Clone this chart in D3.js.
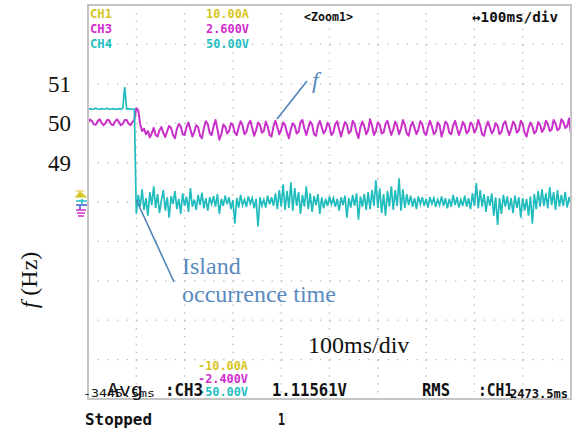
<!DOCTYPE html>
<html>
<head>
<meta charset="utf-8">
<script src="https://cdn.jsdelivr.net/npm/d3@7"></script>
<style>
  body { margin: 0; background: #fff; }
  .scope { font-family: "DejaVu Sans Mono", "Liberation Mono", monospace; font-weight: bold; }
  .serif { font-family: "Liberation Serif", "Times New Roman", serif; }
</style>
</head>
<body>
<div id="chart"></div>
<script>
// sample spacing of both traces (ms); 10 divisions x 100 ms on screen
var sampleStepMs = 4;
var timeDivs = [0, 100, 200, 300, 400, 500, 600, 700, 800, 900, 1000];

// CH3 - frequency (Hz)
var ch3Hz = [
  50.02, 50.09, 50.06, 49.97, 49.96, 50.05, 50.10, 50.01, 49.95, 50.00,
  50.09, 50.07, 49.97, 49.95, 50.04, 50.10, 50.03, 49.95, 49.98, 50.08,
  50.08, 49.99, 49.95, 50.03, 50.09,
  50.38, 50.33, 49.98, 49.80, 49.86, 49.72, 49.80, 49.64, 49.74, 49.88,
  49.70, 49.66, 49.82, 49.90, 49.75, 49.65, 49.80, 49.93, 49.88, 49.70,
  49.62, 49.85, 49.98, 49.92, 49.72, 49.70, 49.90, 50.02, 49.84, 49.66,
  49.78, 49.95, 49.90, 49.68, 49.62, 49.88, 50.05, 49.98, 49.75, 49.70,
  49.92, 50.08, 49.85, 49.58, 49.72, 49.96, 49.92, 49.74, 49.80, 50.00,
  49.95, 49.76, 49.70, 49.90, 50.05, 49.94, 49.72, 49.78, 49.98, 50.06,
  49.88, 49.68, 49.82, 50.02, 49.96, 49.76, 49.80, 50.04, 49.92, 49.70,
  49.66, 49.92, 50.06, 49.90, 49.72, 49.84, 50.02, 49.95, 49.76, 49.62,
  49.85, 50.00, 49.94, 49.74, 49.78, 50.03, 50.08, 49.86, 49.70, 49.88,
  50.04, 49.97, 49.72, 49.68, 49.94, 50.06, 49.90, 49.74, 49.82, 50.01,
  49.93, 49.70, 49.76, 49.98, 50.05, 49.84, 49.66, 49.86, 50.03, 49.96,
  49.74, 49.80, 50.06, 49.98, 49.76, 49.62, 49.90, 50.04, 49.92, 49.72,
  49.82, 50.10, 49.94, 49.70, 49.80, 50.02, 49.96, 49.74, 49.76, 49.98,
  50.06, 49.88, 49.70, 49.84, 50.04, 49.93, 49.72, 49.86, 50.08, 49.96,
  49.74, 49.68, 49.92, 50.03, 49.88, 49.72, 49.84, 50.05, 49.98, 49.76,
  49.70, 49.90, 50.06, 49.92, 49.72, 49.78, 50.02, 49.95, 49.66, 49.82,
  50.04, 49.98, 49.76, 49.72, 49.94, 50.06, 49.88, 49.70, 49.84, 50.03,
  49.94, 49.74, 49.80, 50.02, 49.96, 49.76, 49.86, 50.08, 49.94, 49.72,
  49.68, 49.90, 50.04, 49.90, 49.74, 49.82, 50.00, 49.94, 49.72, 49.78,
  49.98, 50.05, 49.86, 49.70, 49.84, 50.04, 49.96, 49.76, 49.82, 50.06,
  49.98, 49.76, 49.66, 49.88, 50.02, 49.92, 49.74, 49.80, 50.03, 49.96,
  49.78, 49.86, 50.06, 49.98, 49.80, 49.84, 50.08, 50.00, 49.82, 49.86,
  50.10, 50.04, 49.88, 49.92, 50.12, 49.72
];

// CH4 - voltage, in screen divisions
var ch4Div = [
  2.36, 2.37, 2.35, 2.36, 2.38, 2.36, 2.35, 2.37, 2.36, 2.36,
  2.38, 2.35, 2.36, 2.37, 2.36, 2.35, 2.37, 2.36, 2.38, 2.92,
  2.36, 2.37, 2.35, 2.36, 2.36,
  -0.30, 0.18, -0.12, 0.32, -0.20, 0.10, -0.35, 0.25, -0.08, 0.40,
  -0.15, 0.20, -0.28, 0.05, 0.30, -0.22, 0.12, -0.40, 0.15, -0.05,
  0.28, -0.18, 0.08, -0.30, 0.22, -0.10, 0.14, -0.25, 0.35, -0.12,
  0.06, -0.20, 0.18, -0.08, 0.24, -0.16, 0.10, -0.22, 0.12, -0.05,
  0.15, -0.12, 0.20, -0.30, 0.08, -0.10, 0.16, -0.06, 0.12, -0.18,
  0.05, -0.55, 0.10, -0.14, 0.18, -0.08, 0.06, -0.12, 0.14, -0.04,
  0.10, -0.16, 0.08, -0.62, 0.12, -0.10, 0.06, -0.14, 0.16, -0.06,
  0.12, -0.10, 0.22, -0.18, 0.30, -0.12, 0.45, -0.20, 0.28, -0.15,
  0.50, -0.22, 0.35, -0.10, 0.25, -0.30, 0.18, -0.12, 0.40, -0.18,
  0.22, -0.25, 0.15, -0.08, 0.20, -0.30, 0.12, -0.16, 0.08, -0.10,
  0.14, -0.06, 0.10, -0.12, 0.08, -0.22, 0.12, -0.08, 0.16, -0.40,
  0.10, -0.14, 0.18, -0.10, 0.22, -0.45, 0.14, -0.12, 0.20, -0.20,
  0.25, -0.18, 0.30, -0.10, 0.55, -0.15, 0.35, -0.28, 0.20, -0.35,
  0.28, -0.12, 0.40, -0.20, 0.30, -0.10, 0.60, -0.22, 0.32, -0.15,
  0.20, -0.08, 0.16, -0.12, 0.10, -0.18, 0.14, -0.06, 0.12, -0.10,
  0.08, -0.14, 0.12, -0.05, 0.10, -0.12, 0.06, -0.08, 0.14, -0.10,
  0.10, -0.16, 0.08, -0.12, 0.18, -0.08, 0.12, -0.14, 0.06, -0.10,
  0.16, -0.12, 0.10, -0.18, 0.22, -0.10, 0.48, -0.16, 0.30, -0.12,
  0.20, -0.25, 0.15, -0.10, 0.22, -0.35, 0.12, -0.58, 0.10, -0.30,
  0.18, -0.12, 0.14, -0.20, 0.10, -0.28, 0.16, -0.15, 0.12, -0.40,
  0.10, -0.22, 0.08, -0.35, 0.14, -0.55, 0.20, -0.18, 0.28, -0.12,
  0.32, -0.10, 0.22, -0.16, 0.38, -0.08, 0.25, -0.20, 0.30, -0.12,
  0.18, -0.10, 0.26, -0.14, 0.12, -0.06
];

var freqTicks = [51, 50, 49];
var channelNames = ["CH1", "CH3", "CH4"];
var channelTop = ["10.00A", "2.600V", "50.00V"];
var channelBottom = ["-10.00A", "-2.400V", "-50.00V"];
var channelColors = ["#d6c624", "#d02ccf", "#1fbfc3"];

var width = 584, height = 437;
var frame = { left: 88, right: 571, top: 5, bottom: 399 };

var svg = d3.select("#chart").append("svg")
    .attr("width", width)
    .attr("height", height);

// scales
var x = d3.scaleLinear().domain([0, 1000]).range([frame.left, frame.right]);
var yHz = d3.scaleLinear().domain([43, 53]).range([frame.bottom, frame.top]);
var yDiv = d3.scaleLinear().domain([-5, 5]).range([frame.bottom, frame.top]);
var divTicks = d3.range(-4, 5);

// dotted graticule
var grid = svg.append("g").attr("stroke", "#b8b8b8").attr("stroke-width", 1.3);
grid.selectAll(".vgrid")
    .data(timeDivs.slice(1, -1))
    .enter().append("line")
    .attr("x1", function(d) { return x(d); })
    .attr("x2", function(d) { return x(d); })
    .attr("y1", frame.top)
    .attr("y2", frame.bottom)
    .attr("stroke-dasharray", "1.3," + ((yDiv(0) - yDiv(1)) / 5 - 1.3));
grid.selectAll(".hgrid")
    .data(divTicks)
    .enter().append("line")
    .attr("x1", frame.left)
    .attr("x2", frame.right)
    .attr("y1", function(d) { return yDiv(d); })
    .attr("y2", function(d) { return yDiv(d); })
    .attr("stroke-dasharray", "1.3," + ((x(100) - x(0)) / 5 - 1.3));

// traces
var lineHz = d3.line()
    .x(function(d, i) { return x(i * sampleStepMs); })
    .y(function(d) { return yHz(d); });
var lineDiv = d3.line()
    .x(function(d, i) { return x(i * sampleStepMs); })
    .y(function(d) { return yDiv(d); });

svg.append("path")
    .datum(ch3Hz)
    .attr("fill", "none")
    .attr("stroke", "#c930c9")
    .attr("stroke-width", 2)
    .attr("stroke-linejoin", "round")
    .attr("d", lineHz);

svg.append("path")
    .datum(ch4Div)
    .attr("fill", "none")
    .attr("stroke", "#20bcbe")
    .attr("stroke-width", 1.7)
    .attr("d", lineDiv);

// screen frame
svg.append("rect")
    .attr("x", frame.left)
    .attr("y", frame.top)
    .attr("width", frame.right - frame.left)
    .attr("height", frame.bottom - frame.top)
    .attr("fill", "none")
    .attr("stroke", "#c4c4c4")
    .attr("stroke-width", 2);

// channel header (top) and bottom scale readouts
channelNames.forEach(function(name, i) {
    svg.append("text").attr("class", "scope")
        .attr("x", 90).attr("y", 18 + i * 15)
        .attr("font-size", 13).attr("fill", channelColors[i])
        .attr("textLength", 22).attr("lengthAdjust", "spacingAndGlyphs")
        .text(name);
    svg.append("text").attr("class", "scope")
        .attr("x", 206).attr("y", 18 + i * 15)
        .attr("font-size", 13).attr("fill", channelColors[i])
        .attr("textLength", 43).attr("lengthAdjust", "spacingAndGlyphs")
        .text(channelTop[i]);
    svg.append("text").attr("class", "scope")
        .attr("x", 198).attr("y", 370 + i * 13)
        .attr("font-size", 11.5).attr("fill", channelColors[i])
        .attr("textLength", 50).attr("lengthAdjust", "spacingAndGlyphs")
        .text(channelBottom[i]);
});

function scopeText(str, xPos, yPos, size, len, weight) {
    svg.append("text")
        .attr("x", xPos).attr("y", yPos)
        .attr("font-family", "DejaVu Sans Mono, monospace")
        .attr("font-weight", weight || "bold")
        .attr("font-size", size)
        .attr("fill", "#111")
        .attr("textLength", len).attr("lengthAdjust", "spacingAndGlyphs")
        .text(str);
}

scopeText("<Zoom1>", 304, 21, 13, 49);
scopeText("\u2194100ms/div", 472, 22, 14, 86);
scopeText("-3445.5ms", 83, 397, 11, 72, "normal");
scopeText("Avg", 107, 396, 18, 36, "normal");
scopeText(":CH3", 165, 396, 18, 38);
scopeText("1.11561V", 272, 396, 18, 75);
scopeText("RMS", 422, 396, 18, 28);
scopeText(":CH1", 478, 396, 18, 35);
scopeText("2473.5ms", 510, 398, 12, 58);
scopeText("Stopped", 85, 425, 16, 67);
scopeText("1", 278, 425, 16, 7);

// ground markers left of the screen
var gm = svg.append("g");
gm.append("path").attr("d", "M76,191 L84,191 M80,191 L80,197 M76,197 L86,197 L80,192 Z")
    .attr("stroke", "#d6c624").attr("fill", "#d6c624").attr("stroke-width", 1.2);
gm.append("path").attr("d", "M76,201 L87,201 M82,199 L82,204")
    .attr("stroke", "#1fbfc3").attr("stroke-width", 1.6);
gm.append("path").attr("d", "M76,205 L87,205 M80,205 L80,210")
    .attr("stroke", "#4a5fd0").attr("stroke-width", 1.6);
gm.append("path").attr("d", "M76,210 L86,210 M77,213 L85,213 M78,216 L84,216")
    .attr("stroke", "#d02ccf").attr("stroke-width", 1.4);

// frequency labels
svg.selectAll(".ftick")
    .data(freqTicks)
    .enter().append("text")
    .attr("class", "serif")
    .attr("x", 71)
    .attr("y", function(d) { return yHz(d) + 8; })
    .attr("text-anchor", "end")
    .attr("font-size", 23)
    .attr("fill", "#111")
    .text(function(d) { return d; });

var ylab = svg.append("text")
    .attr("class", "serif")
    .attr("transform", "translate(37,280) rotate(-90)")
    .attr("text-anchor", "middle")
    .attr("font-size", 24)
    .attr("fill", "#111");
ylab.append("tspan").attr("font-style", "italic").text("f");
ylab.append("tspan").text(" (Hz)");

// annotations
var annColor = "#5a8bc0";
svg.append("line")
    .attr("x1", 277).attr("y1", 119).attr("x2", 307).attr("y2", 81)
    .attr("stroke", "#4f83b8").attr("stroke-width", 1.6);
svg.append("text").attr("class", "serif")
    .attr("x", 312).attr("y", 88)
    .attr("font-size", 24).attr("font-style", "italic")
    .attr("fill", annColor).text("f");

svg.append("line")
    .attr("x1", x(100)).attr("y1", 200).attr("x2", 174).attr("y2", 282)
    .attr("stroke", "#4f83b8").attr("stroke-width", 1.6);
svg.append("text").attr("class", "serif")
    .attr("x", 182).attr("y", 274)
    .attr("font-size", 24).attr("fill", annColor).text("Island");
svg.append("text").attr("class", "serif")
    .attr("x", 182).attr("y", 302)
    .attr("font-size", 24).attr("fill", annColor).text("occurrence time");

svg.append("text").attr("class", "serif")
    .attr("x", 308).attr("y", 353)
    .attr("font-size", 24).attr("fill", "#111").text("100ms/div");
</script>
</body>
</html>
